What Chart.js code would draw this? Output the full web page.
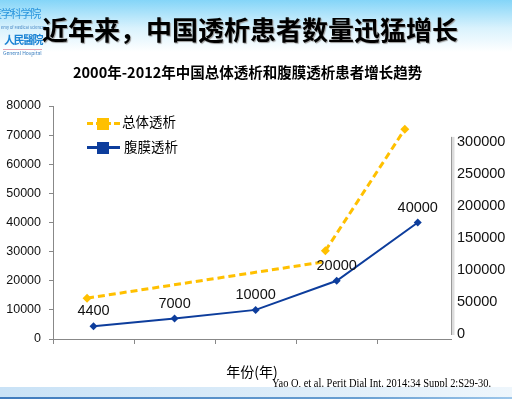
<!DOCTYPE html>
<html>
<head>
<meta charset="utf-8">
<script src="https://cdn.jsdelivr.net/npm/chart.js@4"></script>
<style>
  body { margin: 0; width: 512px; height: 399px; overflow: hidden; position: relative;
    background: linear-gradient(to bottom, #84d5f8 0px, #d9f2fd 28px, #ffffff 52px); font-family: "Noto Sans CJK SC", sans-serif; }
  #wrap { position: absolute; left: 0; top: 0; width: 512px; height: 399px; }
  .abs { position: absolute; white-space: nowrap; line-height: 1; }
  #title { left: 42px; top: 16px; font-size: 26px; font-weight: bold; color: #000; text-shadow: 1px 1px 1px #9a9a9a; }
  #subtitle { left: 73px; top: 65px; font-size: 14.5px; font-weight: bold; color: #000; }
  #cite { left: 272px; top: 377px; font-family: "Liberation Serif", serif; font-size: 12px; color: #000;
    transform: scaleX(0.87); transform-origin: left top; }
  #band { position: absolute; left: 0; top: 387px; width: 512px; height: 10px;
    background: linear-gradient(to right, #c9e2f6, #deedf9 60%, #eef6fc); }
  #band2 { position: absolute; left: 0; top: 397px; width: 512px; height: 2px;
    background: linear-gradient(to right, #3f7bbd, #6aa0d2 70%, #9cc6ea); }
  .logo { color: #2a95dd; }
  .leg { position: absolute; left: 87px; width: 33px; height: 0; }
  .sq { position: absolute; left: 10px; top: -6px; width: 12px; height: 12px; }
  .legtxt { position: absolute; font-size: 13.5px; color: #000; line-height: 1; }
</style>
</head>
<body>
<div id="wrap"><canvas id="chart"></canvas></div>
<div class="abs logo" style="left:-9px; top:8px; font-size:11px; letter-spacing:-1.2px;">医学科学院</div>
<div class="abs logo" style="left:1px; top:25px; font-size:4px; color:#3a7fc0;">emy of Medical Sciences</div>
<div class="abs logo" style="left:4px; top:34px; font-size:11px; font-weight:bold; letter-spacing:-1.5px; color:#1c84d4;">人民醫院</div>
<div class="abs logo" style="left:3px; top:49px; font-size:5px; color:#3a7fc0; border-top:1px solid #e6a0b0;">General Hospital</div>
<div id="title" class="abs">近年来，中国透析患者数量迅猛增长</div>
<div id="subtitle" class="abs">2000年-2012年中国总体透析和腹膜透析患者增长趋势</div>
<div class="leg" style="top:122px; border-top:3px dashed #ffc000;"><div class="sq" style="background:#ffc000; top:-7px;"></div></div>
<div class="legtxt" style="left:122px; top:115px;">总体透析</div>
<div class="leg" style="top:146px; border-top:3px solid #0d3d9c;"><div class="sq" style="background:#0d3d9c; top:-7px;"></div></div>
<div class="legtxt" style="left:124px; top:140px;">腹膜透析</div>
<div id="cite" class="abs">Yao Q, et al. Perit Dial Int. 2014;34 Suppl 2:S29-30.</div>
<div id="band"></div>
<div id="band2"></div>
<script>
// years are not printed on the slide, only 5 category slots
const categories = ['2000', '2005', '2008', '2010', '2012'];
const pdValues = [4400, 7000, 10000, 20000, 40000];

// total dialysis line (right axis), drawn off the category grid in the slide
const totalX = [-0.08, 2.83, 2.845, 2.86, 3.84];
const totalValues = [56000, 112500, null, 130000, 320000];
const totalMarkers = [4.5, 0, 0, 4.5, 4.5];

const leftTicks = [0, 10000, 20000, 30000, 40000, 50000, 60000, 70000, 80000];
const rightTicks = [0, 50000, 100000, 150000, 200000, 250000, 300000];
const xTicks = [-0.5, 0.5, 1.5, 2.5, 3.5];

const labelPlugin = {
  id: 'pdLabels',
  afterDatasetsDraw(chart) {
    const ctx = chart.ctx;
    const meta = chart.getDatasetMeta(0);
    ctx.save();
    ctx.font = '14.5px "Liberation Sans", Arial';
    ctx.fillStyle = '#111';
    ctx.textAlign = 'center';
    ctx.textBaseline = 'middle';
    meta.data.forEach((pt, i) => {
      ctx.fillText(String(pdValues[i]), pt.x, pt.y - 15);
    });
    ctx.restore();
  }
};

const rightLine = {
  id: 'rightLine',
  afterDraw(chart) {
    const s = chart.scales.y2;
    const ctx = chart.ctx;
    ctx.save();
    ctx.strokeStyle = '#dcdcdc';
    ctx.lineWidth = 3;
    ctx.beginPath();
    ctx.moveTo(s.left + 2, s.getPixelForValue(308000));
    ctx.lineTo(s.left + 2, s.getPixelForValue(0) + 1);
    ctx.stroke();
    ctx.strokeStyle = '#999';
    ctx.lineWidth = 1;
    ctx.beginPath();
    ctx.moveTo(s.left + 0.5, s.getPixelForValue(308000));
    ctx.lineTo(s.left + 0.5, s.getPixelForValue(0) + 1);
    ctx.stroke();
    ctx.restore();
  }
};

new Chart(document.getElementById('chart'), {
  type: 'line',
  data: {
    labels: categories,
    datasets: [{
      label: '腹膜透析',
      data: categories.map((c, i) => ({x: i, y: pdValues[i]})),
      yAxisID: 'y',
      borderColor: '#0d3d9c',
      backgroundColor: '#0d3d9c',
      borderWidth: 2,
      pointStyle: 'rectRot',
      pointRadius: 4,
      pointBorderWidth: 0,
      tension: 0
    }, {
      label: '总体透析',
      data: totalX.map((x, i) => ({x: x, y: totalValues[i]})),
      yAxisID: 'y2',
      borderColor: '#ffc000',
      backgroundColor: '#ffc000',
      borderWidth: 3,
      borderDash: [7, 4],
      pointStyle: 'rectRot',
      pointRadius: totalMarkers,
      pointBorderWidth: 0,
      spanGaps: false,
      tension: 0
    }]
  },
  options: {
    responsive: true,
    maintainAspectRatio: false,
    animation: false,
    layout: { padding: { top: 106, left: 0, right: 0, bottom: 0 } },
    plugins: { legend: { display: false }, tooltip: { enabled: false } },
    scales: {
      x: {
        type: 'linear',
        min: -0.5,
        max: 4.41,
        afterBuildTicks: s => { s.ticks = xTicks.map(v => ({value: v})); },
        afterFit: s => { s.height = 60; },
        ticks: { display: false },
        grid: { drawOnChartArea: false, tickLength: 5, color: '#888' },
        border: { color: '#888' },
        title: {
          display: true,
          text: '年份(年)',
          font: { family: '"Noto Sans CJK SC"', size: 14 },
          color: '#000',
          padding: { top: 0, bottom: 19 }
        }
      },
      y: {
        position: 'left',
        min: 0,
        max: 80000,
        afterBuildTicks: s => { s.ticks = leftTicks.map(v => ({value: v})); },
        afterFit: s => { s.width = 53; },
        ticks: {
          padding: 8,
          color: '#111',
          font: { family: '"Liberation Sans", Arial', size: 12.5 },
          callback: v => String(v)
        },
        grid: { drawOnChartArea: false, tickLength: 4, color: '#888' },
        border: { color: '#888' }
      },
      y2: {
        position: 'right',
        min: -7812,
        max: 356250,
        afterBuildTicks: s => { s.ticks = rightTicks.map(v => ({value: v})); },
        afterFit: s => { s.width = 61; },
        ticks: {
          padding: 6,
          color: '#111',
          font: { family: '"Liberation Sans", Arial', size: 14.5 },
          callback: v => String(v)
        },
        grid: { display: false, drawTicks: false },
        border: { display: false }
      }
    }
  },
  plugins: [labelPlugin, rightLine]
});
</script>
</body>
</html>
